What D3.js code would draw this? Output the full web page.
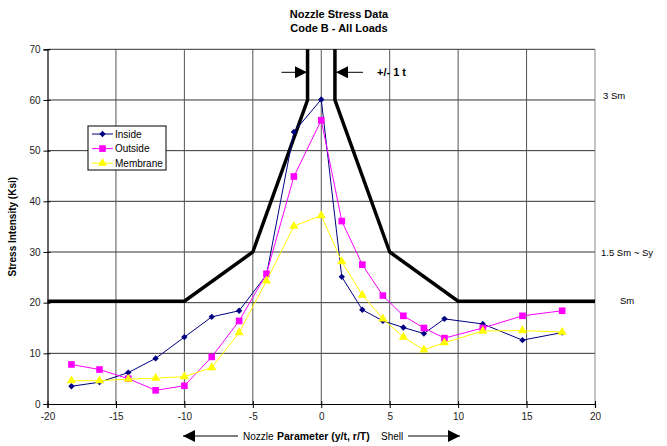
<!DOCTYPE html>
<html>
<head>
<meta charset="utf-8">
<script src="https://cdn.jsdelivr.net/npm/d3@7"></script>
<style>
  html, body { margin: 0; padding: 0; background: #fff; }
  svg { display: block; font-family: "Liberation Sans", Arial, sans-serif; }
</style>
</head>
<body>
<svg id="chart" width="667" height="446"></svg>
<script>
// ---- Data ----
const xValues = [-18.25, -16.2, -14.1, -12.1, -10, -8, -6, -4, -2, 0, 1.5, 3, 4.5, 6, 7.5, 9, 11.8, 14.7, 17.6];
const insideValues   = [3.5, 4.3, 6.2, 9.0, 13.2, 17.2, 18.4, 25.5, 53.7, 60.1, 25.1, 18.6, 16.4, 15.1, 13.9, 16.8, 15.8, 12.6, 14.1];
const outsideValues  = [7.8, 6.8, 5.0, 2.7, 3.6, 9.3, 16.4, 25.7, 44.9, 56.0, 36.1, 27.5, 21.4, 17.4, 15.0, 13.0, 15.0, 17.4, 18.4];
const membraneValues = [4.6, 4.6, 4.9, 5.1, 5.4, 7.2, 14.1, 24.3, 35.1, 37.2, 28.1, 21.5, 16.8, 13.2, 10.7, 12.1, 14.4, 14.5, 14.2];
const seriesNames = ["Inside", "Outside", "Membrane"];
const envelopeX = [-20, -10, -5, -1, -1];
const envelopeY = [20.3, 20.3, 30, 60, 70];
const envelopeRightX = [1, 1, 5, 10, 20];
const envelopeRightY = [70, 60, 30, 20.3, 20.3];
const xTicks = [-20, -15, -10, -5, 0, 5, 10, 15, 20];
const yTicks = [0, 10, 20, 30, 40, 50, 60, 70];
const limitLabels = ["3 Sm", "1.5 Sm ~ Sy", "Sm"];
const limitValues = [60.7, 29.8, 20.3];
const titleLines = ["Nozzle Stress Data", "Code B - All Loads"];

(function () {
// ---- Layout ----
const svg = d3.select("#chart");
const pL = 47.5, pR = 595, pT = 49.3, pB = 404;
const x = d3.scaleLinear().domain([-20, 20]).range([pL, pR]);
const y = d3.scaleLinear().domain([0, 70]).range([pB, pT]);

// Titles
svg.selectAll("text.title").data(titleLines).enter().append("text")
  .attr("x", 339).attr("y", (d, i) => 18 + i * 13.5)
  .attr("text-anchor", "middle").attr("font-size", "11px").attr("font-weight", "bold")
  .attr("fill", "#000").text(d => d);

// Gridlines
const grid = svg.append("g");
grid.selectAll("line.h").data(yTicks.filter(d => d > 0)).enter().append("line")
  .attr("x1", pL).attr("x2", pR).attr("y1", d => y(d)).attr("y2", d => y(d))
  .attr("stroke", "#333").attr("stroke-width", 1);
grid.selectAll("line.v").data(xTicks.filter(d => d > -20)).enter().append("line")
  .attr("y1", pT).attr("y2", pB).attr("x1", d => x(d)).attr("x2", d => x(d))
  .attr("stroke", d => d === 20 ? "#888" : "#555").attr("stroke-width", 1);

// Axes
const fmt = d => String(d);
const yAxis = svg.append("g").attr("transform", `translate(${pL},0)`)
  .call(d3.axisLeft(y).tickValues(yTicks).tickFormat(fmt).tickSize(4).tickPadding(3));
const xAxis = svg.append("g").attr("transform", `translate(0,${pB})`)
  .call(d3.axisBottom(x).tickValues(xTicks).tickFormat(fmt).tickSize(4).tickPadding(5));
[yAxis, xAxis].forEach(a => {
  a.select(".domain").attr("stroke", "#000").attr("stroke-width", 1.2);
  a.selectAll(".tick line").attr("stroke", "#000");
  a.selectAll(".tick text").attr("font-size", "10px").attr("fill", "#222")
    .attr("font-family", "'Liberation Sans', Arial, sans-serif");
});
yAxis.selectAll(".tick").append("line").attr("x1", 0).attr("x2", 3).attr("stroke", "#000");
xAxis.selectAll(".tick").append("line").attr("y1", 0).attr("y2", -3).attr("stroke", "#000");

// Y axis title
svg.append("text").attr("transform", `translate(16,${(pT + pB) / 2}) rotate(-90)`)
  .attr("text-anchor", "middle").attr("font-size", "10px").attr("font-weight", "bold")
  .text("Stress Intensity (Ksi)");

// Envelope
const envLine = d3.line().x(d => x(d[0])).y(d => y(d[1]));
svg.append("path").datum(envelopeX.map((v, i) => [v, envelopeY[i]]))
  .attr("d", envLine).attr("fill", "none").attr("stroke", "#000").attr("stroke-width", 3.5);
svg.append("path").datum(envelopeRightX.map((v, i) => [v, envelopeRightY[i]]))
  .attr("d", envLine).attr("fill", "none").attr("stroke", "#000").attr("stroke-width", 3.5);

// Limit labels
svg.selectAll("text.lim").data(limitLabels).enter().append("text")
  .attr("x", (d, i) => i === 2 ? 620 : (i === 0 ? 603 : 601))
  .attr("y", (d, i) => y(limitValues[i]) + 3)
  .attr("font-size", "9.5px").attr("fill", "#000").text(d => d);

// Arrow marker defs
const defs = svg.append("defs");
defs.append("marker").attr("id", "ah").attr("viewBox", "0 0 10 10")
  .attr("refX", 10).attr("refY", 5).attr("markerUnits", "userSpaceOnUse")
  .attr("markerWidth", 13).attr("markerHeight", 12).attr("orient", "auto")
  .append("path").attr("d", "M0,0 L10,5 L0,10 Z").attr("fill", "#000");

// +/- 1 t arrows
svg.append("line").attr("x1", 281.5).attr("x2", 307).attr("y1", 72.3).attr("y2", 72.3)
  .attr("stroke", "#000").attr("stroke-width", 1).attr("marker-end", "url(#ah)");
svg.append("line").attr("x1", 363).attr("x2", 336).attr("y1", 72.3).attr("y2", 72.3)
  .attr("stroke", "#000").attr("stroke-width", 1).attr("marker-end", "url(#ah)");
svg.append("text").attr("x", 377).attr("y", 76).attr("font-size", "11px").attr("font-weight", "bold")
  .text("+/- 1 t");

// Bottom arrows and label
svg.append("line").attr("x1", 238).attr("x2", 183).attr("y1", 436).attr("y2", 436)
  .attr("stroke", "#000").attr("stroke-width", 1).attr("marker-end", "url(#ah)");
svg.append("line").attr("x1", 408).attr("x2", 460).attr("y1", 436).attr("y2", 436)
  .attr("stroke", "#000").attr("stroke-width", 1).attr("marker-end", "url(#ah)");
const bl = svg.append("text").attr("y", 439.5).attr("font-size", "10px");
bl.append("tspan").attr("x", 243).text("Nozzle");
bl.append("tspan").attr("x", 277).attr("font-weight", "bold").attr("font-size", "10.5px")
  .text("Parameter (y/t, r/T)");
bl.append("tspan").attr("x", 381).text("Shell");

// Series
const colors = ["#000080", "#FF00FF", "#FFFF00"];
const allValues = [insideValues, outsideValues, membraneValues];
const symbols = [
  d3.symbol().type(d3.symbolSquare).size(20),
  d3.symbol().type(d3.symbolSquare).size(44),
  d3.symbol().type(d3.symbolTriangle).size(36)
];
const rot = [45, 0, 0];
const line = d3.line().x(d => x(d[0])).y(d => y(d[1]));
allValues.forEach((vals, si) => {
  const pts = xValues.map((xv, i) => [xv, vals[i]]);
  const g = svg.append("g");
  g.append("path").datum(pts).attr("d", line).attr("fill", "none")
    .attr("stroke", colors[si]).attr("stroke-width", 1);
  g.selectAll("path.m").data(pts).enter().append("path")
    .attr("transform", d => `translate(${x(d[0])},${y(d[1])}) rotate(${rot[si]})`)
    .attr("d", symbols[si]()).attr("fill", colors[si]);
});

// Legend
const lg = svg.append("g");
lg.append("rect").attr("x", 88).attr("y", 126).attr("width", 78).attr("height", 44)
  .attr("fill", "#fff").attr("stroke", "#000").attr("stroke-width", 1);
seriesNames.forEach((name, i) => {
  const ly = 134 + i * 14.6;
  lg.append("line").attr("x1", 92).attr("x2", 113).attr("y1", ly).attr("y2", ly)
    .attr("stroke", colors[i]).attr("stroke-width", 1);
  lg.append("path").attr("transform", `translate(102.5,${ly}) rotate(${rot[i]})`).attr("d", symbols[i]()).attr("fill", colors[i]);
  lg.append("text").attr("x", 115).attr("y", ly + 3.5).attr("font-size", "10px").text(name);
});
})();
</script>
</body>
</html>
